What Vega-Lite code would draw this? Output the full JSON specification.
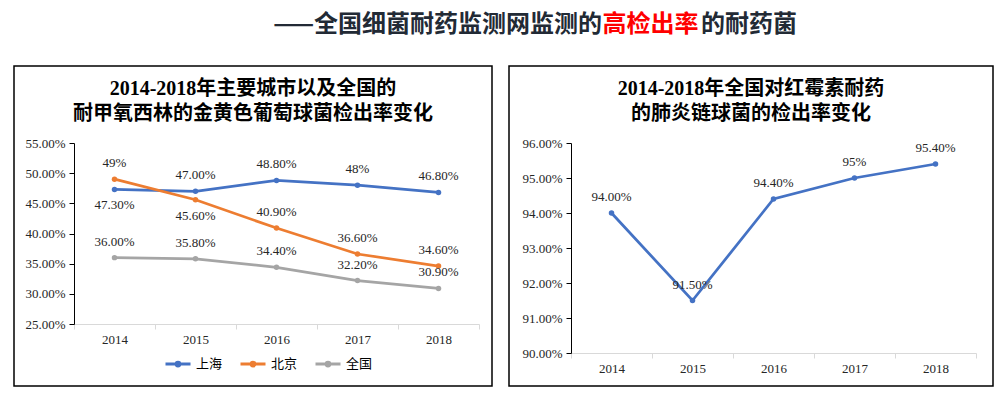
{
  "$schema": "https://vega.github.io/schema/vega-lite/v6.json",
  "padding": {"left": 13, "top": 5, "right": 5, "bottom": 5},
  "background": "white",
  "spacing": 20,
  "config": {
    "view": {"stroke": "#000000", "strokeWidth": 1.5},
    "axis": {"grid": false, "title": null, "labelFont": "Liberation Serif", "labelFontSize": 13, "labelColor": "#262626"}
  },
  "vconcat": [
    {
      "width": 977,
      "height": 40,
      "view": {"stroke": null},
      "data": {"values": [{"k": 1}]},
      "layer": [
        {"mark": {"type": "text", "text": "——全国细菌耐药监测网监测的", "align": "right", "baseline": "middle", "dx": 99.5, "font": "Noto Sans CJK SC", "fontWeight": "bold", "fontSize": 24, "color": "#222a35"}, "encoding": {}},
        {"mark": {"type": "text", "text": "高检出率", "align": "center", "baseline": "middle", "dx": 148, "font": "Noto Sans CJK SC", "fontWeight": "bold", "fontSize": 24, "color": "#ff0000"}, "encoding": {}},
        {"mark": {"type": "text", "text": "的耐药菌", "align": "left", "baseline": "middle", "dx": 198.5, "font": "Noto Sans CJK SC", "fontWeight": "bold", "fontSize": 24, "color": "#222a35"}, "encoding": {}}
      ]
    },
    {
      "spacing": 15,
      "hconcat": [
        {
          "width": 478,
          "height": 320,
          "title": {"text": ["2014-2018年主要城市以及全国的", "耐甲氧西林的金黄色葡萄球菌检出率变化"], "font": "Liberation Serif, Noto Sans CJK SC", "fontWeight": "bold", "fontSize": 20, "lineHeight": 25, "color": "#000000", "anchor": "middle", "frame": "group", "offset": -58},
          "data": {"values": [
            {"year": "2014", "city": "上海", "value": 0.473, "label": "47.30%"},
            {"year": "2015", "city": "上海", "value": 0.470, "label": "47.00%"},
            {"year": "2016", "city": "上海", "value": 0.488, "label": "48.80%"},
            {"year": "2017", "city": "上海", "value": 0.480, "label": "48%"},
            {"year": "2018", "city": "上海", "value": 0.468, "label": "46.80%"},
            {"year": "2014", "city": "北京", "value": 0.490, "label": "49%"},
            {"year": "2015", "city": "北京", "value": 0.456, "label": "45.60%"},
            {"year": "2016", "city": "北京", "value": 0.409, "label": "40.90%"},
            {"year": "2017", "city": "北京", "value": 0.366, "label": "36.60%"},
            {"year": "2018", "city": "北京", "value": 0.346, "label": "34.60%"},
            {"year": "2014", "city": "全国", "value": 0.360, "label": "36.00%"},
            {"year": "2015", "city": "全国", "value": 0.358, "label": "35.80%"},
            {"year": "2016", "city": "全国", "value": 0.344, "label": "34.40%"},
            {"year": "2017", "city": "全国", "value": 0.322, "label": "32.20%"},
            {"year": "2018", "city": "全国", "value": 0.309, "label": "30.90%"}
          ]},
          "encoding": {
            "x": {"field": "year", "type": "ordinal", "bandPosition": 0.5,
              "scale": {"type": "band", "range": [60, 465], "paddingInner": 0, "paddingOuter": 0},
              "axis": {"orient": "bottom", "offset": -62, "tickBand": "extent", "labelAngle": 0, "domainColor": "#D9D9D9", "tickColor": "#D9D9D9", "tickSize": 5, "labelPadding": 4}},
            "y": {"field": "value", "type": "quantitative",
              "scale": {"domain": [0.25, 0.55], "range": [258, 77], "zero": false, "nice": false},
              "axis": {"offset": -60, "values": [0.25, 0.30, 0.35, 0.40, 0.45, 0.50, 0.55], "format": ".2%", "domainColor": "#000000", "tickColor": "#000000", "tickSize": 5, "labelPadding": 4}}
          },
          "layer": [
            {
              "mark": {"type": "line", "strokeWidth": 2.75, "point": {"filled": true, "size": 30}},
              "encoding": {
                "color": {"field": "city", "type": "nominal",
                  "scale": {"domain": ["上海", "北京", "全国"], "range": ["#4472C4", "#ED7D31", "#A5A5A5"]},
                  "legend": {"title": null, "orient": "none", "legendX": 150, "legendY": 345, "direction": "horizontal",
                    "symbolType": "M-1,0L1,0M-0.15,0A0.15,0.15,0,1,1,0.15,0A0.15,0.15,0,1,1,-0.15,0",
                    "symbolSize": 625, "symbolStrokeWidth": 3, "labelFont": "Noto Sans CJK SC", "labelFontSize": 13, "labelColor": "#000000", "columnPadding": 11, "labelOffset": 4}}
              }
            },
            {
              "transform": [{"filter": "!((datum.city == '上海' && datum.year == '2014') || (datum.city == '北京' && datum.year == '2015'))"}],
              "mark": {"type": "text", "dy": -16, "baseline": "middle", "font": "Liberation Serif", "fontSize": 13, "color": "#262626"},
              "encoding": {"text": {"field": "label"}}
            },
            {
              "transform": [{"filter": "(datum.city == '上海' && datum.year == '2014') || (datum.city == '北京' && datum.year == '2015')"}],
              "mark": {"type": "text", "dy": 16, "baseline": "middle", "font": "Liberation Serif", "fontSize": 13, "color": "#262626"},
              "encoding": {"text": {"field": "label"}}
            }
          ]
        },
        {
          "width": 484,
          "height": 320,
          "title": {"text": ["2014-2018年全国对红霉素耐药", "的肺炎链球菌的检出率变化"], "font": "Liberation Serif, Noto Sans CJK SC", "fontWeight": "bold", "fontSize": 20, "lineHeight": 25, "color": "#000000", "anchor": "middle", "frame": "group", "offset": -58},
          "data": {"values": [
            {"year": "2014", "value": 0.940, "label": "94.00%"},
            {"year": "2015", "value": 0.915, "label": "91.50%"},
            {"year": "2016", "value": 0.944, "label": "94.40%"},
            {"year": "2017", "value": 0.950, "label": "95%"},
            {"year": "2018", "value": 0.954, "label": "95.40%"}
          ]},
          "encoding": {
            "x": {"field": "year", "type": "ordinal", "bandPosition": 0.5,
              "scale": {"type": "band", "range": [62, 467], "paddingInner": 0, "paddingOuter": 0},
              "axis": {"orient": "bottom", "offset": -33, "tickBand": "extent", "labelAngle": 0, "domainColor": "#D9D9D9", "tickColor": "#D9D9D9", "tickSize": 5, "labelPadding": 4}},
            "y": {"field": "value", "type": "quantitative",
              "scale": {"domain": [0.90, 0.96], "range": [287, 77], "zero": false, "nice": false},
              "axis": {"offset": -62, "values": [0.90, 0.91, 0.92, 0.93, 0.94, 0.95, 0.96], "format": ".2%", "domainColor": "#000000", "tickColor": "#000000", "tickSize": 5, "labelPadding": 4}}
          },
          "layer": [
            {"mark": {"type": "line", "strokeWidth": 2.75, "color": "#4472C4", "point": {"filled": true, "size": 30, "color": "#4472C4"}}},
            {
              "mark": {"type": "text", "dy": -16, "baseline": "middle", "font": "Liberation Serif", "fontSize": 13, "color": "#262626"},
              "encoding": {"text": {"field": "label"}}
            }
          ]
        }
      ]
    }
  ]
}
